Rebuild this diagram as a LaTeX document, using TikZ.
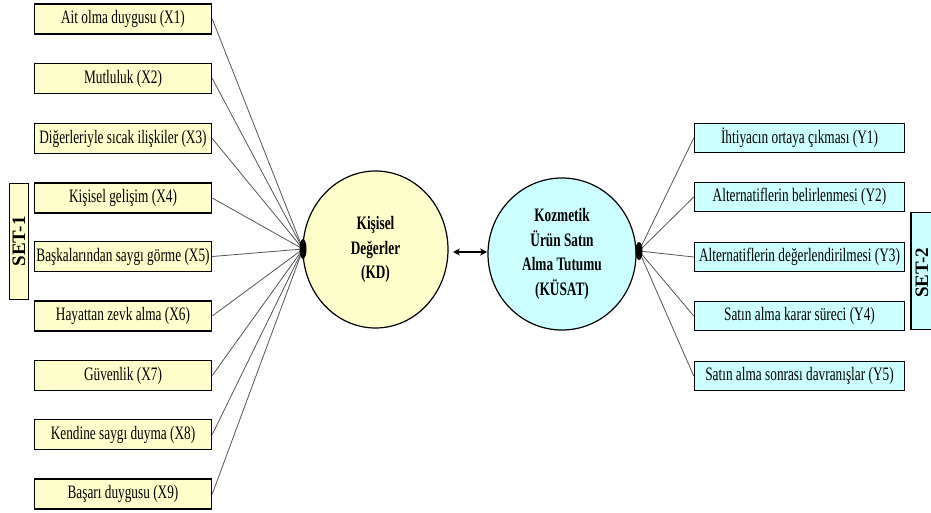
\documentclass[tikz,border=0pt]{standalone}
\usepackage{fontspec}
\setmainfont[FakeStretch=0.7]{Liberation Serif}
\newfontfamily\setlabelfont{Liberation Serif}
\usetikzlibrary{shapes.geometric,arrows.meta}
\definecolor{lyel}{HTML}{FFFFCC}
\definecolor{lcyan}{HTML}{CCFFFF}
\definecolor{conngray}{HTML}{555555}
\begin{document}
\begin{tikzpicture}[x=1pt,y=-1pt,
  xbox/.style={draw=black,line width=1.5pt,fill=lyel,minimum width=177pt,minimum height=30pt,inner sep=0pt,font=\fontsize{19}{21}\selectfont},
  ybox/.style={xbox,fill=lcyan,minimum width=210pt,minimum height=29pt},
  latent/.style={ellipse,draw=black,line width=1.2pt,inner sep=0pt,align=center,font=\bfseries\fontsize{19}{24.5}\selectfont},
  setbox/.style={draw=black,line width=1.5pt,inner sep=0pt},
  setlabel/.style={rotate=90,font=\setlabelfont\bfseries\fontsize{19}{22}\selectfont,inner sep=0pt},
  conn/.style={draw=conngray,line width=0.8pt},
  blob/.style={fill=black}
]
\useasboundingbox[fill=white] (0,0) rectangle (931,513);

% left boxes
\node[xbox] (X1) at (123,19)    {Ait olma duygusu (X1)};
\node[xbox] (X2) at (123,78.5)  {Mutluluk (X2)};
\node[xbox] (X3) at (123,138.5) {Diğerleriyle sıcak ilişkiler (X3)};
\node[xbox] (X4) at (123,198)   {Kişisel gelişim (X4)};
\node[xbox] (X5) at (123,256.5) {Başkalarından saygı görme (X5)};
\node[xbox] (X6) at (123,316)   {Hayattan zevk alma (X6)};
\node[xbox] (X7) at (123,375.5) {Güvenlik (X7)};
\node[xbox] (X8) at (123,434.5) {Kendine saygı duyma (X8)};
\node[xbox] (X9) at (123,494)   {Başarı duygusu (X9)};

% SET-1
\node[setbox,fill=lyel,minimum width=19pt,minimum height=116pt] (S1) at (19,241.5) {};
\node[setlabel] (S1t) at (S1.center) {SET-1};

% right boxes
\node[ybox] (Y1) at (799.5,138) {İhtiyacın ortaya çıkması (Y1)};
\node[ybox] (Y2) at (799.5,197) {Alternatiflerin belirlenmesi (Y2)};
\node[ybox] (Y3) at (799.5,257) {Alternatiflerin değerlendirilmesi (Y3)};
\node[ybox] (Y4) at (799.5,316) {Satın alma karar süreci (Y4)};
\node[ybox] (Y5) at (799.5,376) {Satın alma sonrası davranışlar (Y5)};

% SET-2
\node[setbox,fill=lcyan,minimum width=26pt,minimum height=117pt] (S2) at (924,271) {};
\node[setlabel] (S2t) at (922,273) {SET-2};

% latent variables
\node[latent,fill=lyel,minimum width=145pt,minimum height=157pt] (KD) at (375.5,249.5)
  {Kişisel\\Değerler\\(KD)};
\node[latent,fill=lcyan,minimum width=148pt,minimum height=152pt] (KU) at (562,254)
  {Kozmetik\\Ürün Satın\\Alma Tutumu\\(KÜSAT)};

% junctions
\coordinate (jL) at (303,249);
\coordinate (jR) at (639,251);

\foreach \n in {X1,X2,X3,X4,X5,X6,X7,X8,X9}{
  \draw[conn] (\n.east) -- (jL);
}
\foreach \n in {Y1,Y2,Y3,Y4,Y5}{
  \draw[conn] (jR) -- (\n.west);
}
\fill[blob] (jL) ellipse (3.5 and 10);
\fill[blob] (jR) ellipse (3.5 and 9);

% correlation arrow
\coordinate (a1) at (453,252);
\coordinate (a2) at (487,252);
\draw[line width=1.2pt,{Stealth[length=7pt,width=7pt]}-{Stealth[length=7pt,width=7pt]}] (a1) -- (a2);
\end{tikzpicture}
\end{document}
